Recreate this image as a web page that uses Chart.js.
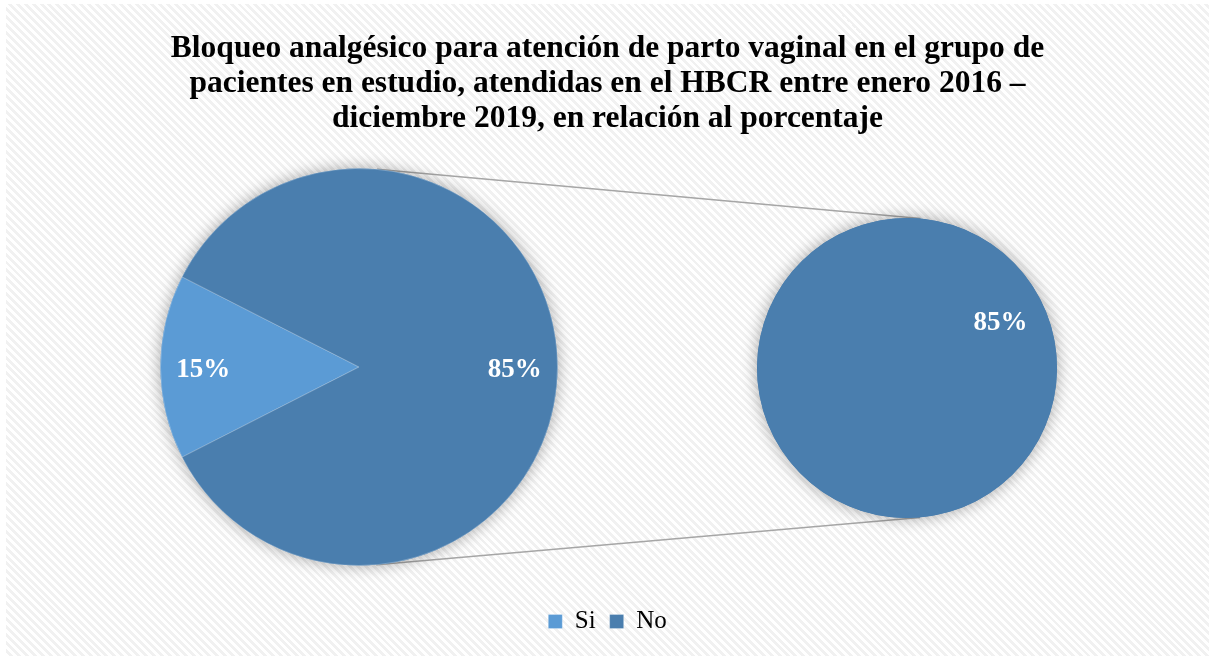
<!DOCTYPE html>
<html lang="es">
<head>
  <meta charset="UTF-8">
  <title>Bloqueo analgésico</title>
  <script src="https://cdn.jsdelivr.net/npm/chart.js"></script>
  <style>
    html, body {
      margin: 0;
      padding: 0;
      background: #ffffff;
    }
    .frame {
      position: relative;
      width: 1209px;
      height: 656px;
      overflow: hidden;
    }
    .pattern {
      position: absolute;
      left: 6px;
      top: 4px;
      right: 0;
      bottom: 0;
      background: repeating-linear-gradient(45deg, #ffffff 0px, #ffffff 2.8px, #f1f1f1 2.8px, #f1f1f1 5.6px);
    }
    canvas {
      position: absolute;
      left: 0;
      top: 0;
    }
  </style>
</head>
<body>
  <div class="frame">
    <div class="pattern"></div>
    <canvas id="mainPie" width="1209" height="656"></canvas>
    <canvas id="subPie" width="1209" height="656"></canvas>
  </div>

  <script>
    // datos
    const categories = ['Si', 'No'];
    const percentages = [15, 85];
    const subCategories = ['No'];
    const subPercentages = [85];

    const titleLines = [
      'Bloqueo analgésico para atención de parto vaginal en el grupo de',
      'pacientes en estudio, atendidas en el HBCR entre enero 2016 –',
      'diciembre 2019, en relación al porcentaje'
    ];

    const colorSi = '#5b9bd5';
    const colorNo = '#4a7eae';
    const serif = '"Liberation Serif", "Times New Roman", serif';

    // sombra suave debajo del pastel
    const shadowPlugin = {
      id: 'pieShadow',
      beforeDatasetsDraw(chart) {
        const arc = chart.getDatasetMeta(0).data[0];
        if (!arc) return;
        const ctx = chart.ctx;
        ctx.save();
        ctx.shadowColor = 'rgba(0,0,0,0.35)';
        ctx.shadowBlur = 16;
        ctx.fillStyle = colorNo;
        ctx.beginPath();
        ctx.arc(arc.x, arc.y, arc.outerRadius, 0, Math.PI * 2);
        ctx.fill();
        ctx.restore();
      }
    };

    // etiquetas de porcentaje dentro de cada porción
    function labelPlugin(dist) {
      return {
        id: 'pctLabels',
        afterDatasetsDraw(chart) {
          const ctx = chart.ctx;
          const values = chart.data.datasets[0].data;
          ctx.save();
          ctx.fillStyle = '#ffffff';
          ctx.font = 'bold 27px ' + serif;
          ctx.textAlign = 'center';
          ctx.textBaseline = 'middle';
          chart.getDatasetMeta(0).data.forEach((arc, i) => {
            const mid = (arc.startAngle + arc.endAngle) / 2;
            const r = arc.outerRadius * dist;
            ctx.fillText(values[i] + '%', arc.x + Math.cos(mid) * r, arc.y + Math.sin(mid) * r + 3);
          });
          ctx.restore();
        }
      };
    }

    // pastel secundario
    const subChart = new Chart(document.getElementById('subPie'), {
      type: 'pie',
      data: {
        labels: subCategories,
        datasets: [{
          data: subPercentages,
          backgroundColor: [colorNo],
          borderWidth: 0
        }]
      },
      options: {
        responsive: false,
        animation: false,
        rotation: -117,
        layout: { padding: { left: 757, top: 218, right: 152, bottom: 138 } },
        plugins: {
          legend: { display: false },
          title: { display: false },
          tooltip: { enabled: false }
        }
      },
      plugins: [shadowPlugin, labelPlugin(0.70)]
    });

    // líneas de conexión (tangentes exteriores entre los dos círculos)
    const connectorPlugin = {
      id: 'connectors',
      beforeDatasetsDraw(chart) {
        const a = chart.getDatasetMeta(0).data[0];
        const b = subChart.getDatasetMeta(0).data[0];
        if (!a || !b) return;
        const dx = b.x - a.x, dy = b.y - a.y;
        const d = Math.hypot(dx, dy);
        const base = Math.atan2(dy, dx);
        const th = Math.acos((a.outerRadius - b.outerRadius) / d);
        const ctx = chart.ctx;
        ctx.save();
        ctx.strokeStyle = '#a6a6a6';
        ctx.lineWidth = 1.5;
        [base - th, base + th].forEach(ang => {
          ctx.beginPath();
          ctx.moveTo(a.x + Math.cos(ang) * a.outerRadius, a.y + Math.sin(ang) * a.outerRadius);
          ctx.lineTo(b.x + Math.cos(ang) * b.outerRadius, b.y + Math.sin(ang) * b.outerRadius);
          ctx.stroke();
        });
        ctx.restore();
      }
    };

    // fija el área del pastel principal sin mover título ni leyenda
    const placePlugin = {
      id: 'placeMain',
      afterLayout(chart) {
        const area = chart.chartArea;
        area.left = 160; area.right = 558;
        area.top = 168; area.bottom = 566;
        area.width = area.right - area.left;
        area.height = area.bottom - area.top;
      }
    };

    new Chart(document.getElementById('mainPie'), {
      type: 'pie',
      data: {
        labels: categories,
        datasets: [{
          data: percentages,
          backgroundColor: [colorSi, colorNo],
          borderColor: 'rgba(255,255,255,0.25)',
          borderWidth: 1
        }]
      },
      options: {
        responsive: false,
        animation: false,
        rotation: 243,
        layout: { padding: { left: 6, right: 0, top: 0, bottom: 12 } },
        plugins: {
          title: {
            display: true,
            text: titleLines,
            color: '#000000',
            font: { family: serif, size: 31.5, weight: 'bold', lineHeight: 1.11 },
            padding: { top: 31, bottom: 0 }
          },
          legend: {
            position: 'bottom',
            labels: {
              color: '#000000',
              font: { family: serif, size: 25 },
              boxWidth: 14,
              boxHeight: 14,
              padding: 14
            }
          },
          tooltip: { enabled: false }
        }
      },
      plugins: [placePlugin, connectorPlugin, shadowPlugin, labelPlugin(0.785)]
    });
  </script>
</body>
</html>
